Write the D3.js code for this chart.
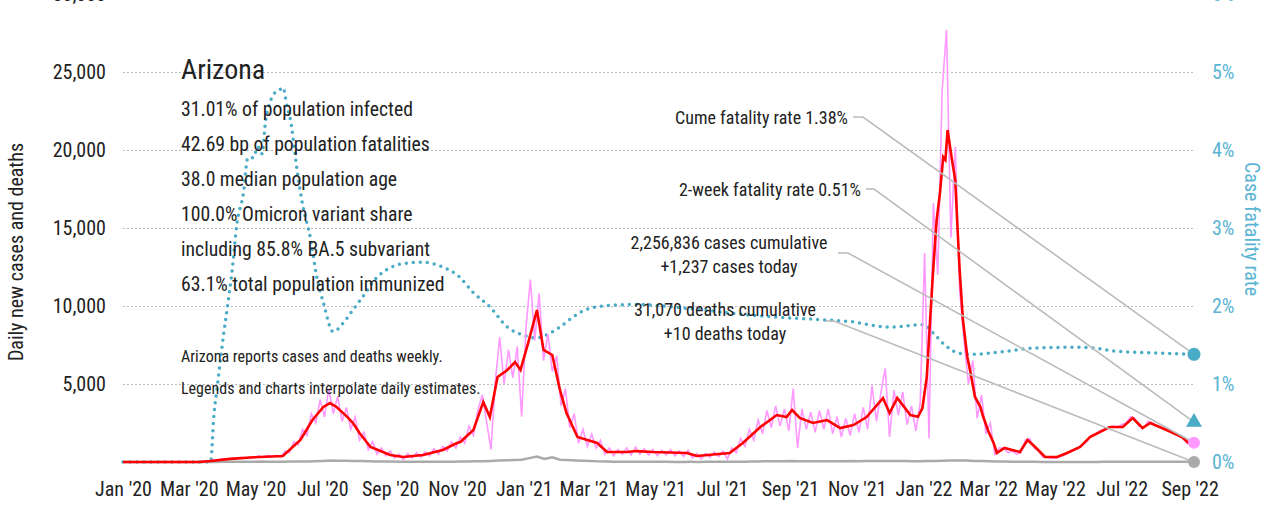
<!DOCTYPE html>
<html>
<head>
<meta charset="utf-8">
<script src="https://cdn.jsdelivr.net/npm/d3@7"></script>
<style>
  body { margin: 0; background: #fff; }
  svg text { font-family: "Roboto Condensed", "Roboto", sans-serif; font-stretch: condensed; fill: #222; }
</style>
</head>
<body>
<svg id="chart" width="1283" height="508"></svg>
<script>
// 7-day average of new cases (red line), read at turning points
const avgDates = ["2020-01-01","2020-03-10","2020-03-21","2020-04-08","2020-04-30","2020-05-26","2020-06-11","2020-06-22","2020-07-02","2020-07-08","2020-07-14","2020-07-24","2020-07-29","2020-08-04","2020-08-14","2020-09-01","2020-09-13","2020-10-01","2020-10-19","2020-11-01","2020-11-04","2020-11-16","2020-11-25","2020-12-01","2020-12-08","2020-12-17","2020-12-24","2020-12-29","2021-01-05","2021-01-13","2021-01-19","2021-01-27","2021-02-03","2021-02-09","2021-02-19","2021-02-28","2021-03-09","2021-03-18","2021-04-05","2021-04-14","2021-04-29","2021-05-30","2021-06-08","2021-07-08","2021-07-20","2021-08-05","2021-08-20","2021-08-29","2021-09-03","2021-09-10","2021-09-22","2021-10-05","2021-10-17","2021-10-29","2021-11-10","2021-11-25","2021-12-01","2021-12-08","2021-12-20","2021-12-27","2021-12-31","2022-01-04","2022-01-07","2022-01-10","2022-01-13","2022-01-16","2022-01-19","2022-01-21","2022-01-23","2022-01-27","2022-01-30","2022-02-01","2022-02-03","2022-02-06","2022-02-10","2022-02-13","2022-02-17","2022-02-22","2022-02-24","2022-03-01","2022-03-06","2022-03-09","2022-03-16","2022-03-30","2022-04-06","2022-04-13","2022-04-22","2022-05-03","2022-05-12","2022-05-24","2022-06-02","2022-06-20","2022-07-02","2022-07-11","2022-07-20","2022-07-27","2022-08-11","2022-08-25","2022-08-31","2022-09-05"];
const avgCases = [0,0,60,200,300,380,1410,2690,3525,3780,3525,2880,2500,1860,960,450,320,450,770,1220,1280,2050,3850,2880,5450,5900,6410,5900,7630,9740,7180,6860,4620,3140,1600,1410,1220,640,640,700,640,580,385,580,1220,2240,3010,2880,3330,2820,2500,2690,2180,2370,2880,4100,3140,4100,3010,2900,3460,5450,9100,12500,15500,17240,19550,19360,21280,19360,18080,15060,12300,9100,6730,5700,4170,3525,3010,2000,1220,580,900,640,1410,960,320,320,580,960,1600,2240,2240,2820,2180,2500,2050,1600,1220,1237];

// raw daily cases (pink line), one reading every 4 days from rawStart
const rawStart = "2020-03-01";
const rawStepDays = 4;
const rawCases = [0,0,10,40,60,90,130,170,220,180,
  250,220,300,240,330,280,400,300,430,350,
  420,300,700,600,1300,1100,2100,1700,3100,2500,
  4000,2900,4700,3100,4200,2600,3500,2100,2900,1400,
  1900,800,1300,500,900,400,700,250,500,150,
  550,250,600,300,650,400,850,500,1000,700,
  1300,900,1600,1200,2300,1700,3300,4300,2600,800,
  5200,8000,5000,7200,5400,7400,2900,8600,11700,7800,
  10800,6500,8200,5800,6800,3600,4700,2200,3100,1200,
  2100,1000,1800,900,1400,500,900,400,800,500,
  900,450,950,500,850,450,800,400,750,450,
  800,400,700,350,750,250,550,200,550,300,
  650,350,700,200,900,600,1500,1000,2100,1400,
  2700,1800,3300,2200,3600,2300,3400,2000,4700,900,
  3400,2100,3200,1900,3300,2100,3400,1800,2900,1600,
  2800,1700,3100,1900,3500,2100,4900,2600,4400,6000,
  1600,4600,3000,4500,2400,3600,2000,3800,13400,1500,
  16600,12000,23800,27700,14400,20200,11000,7800,5000,6500,
  2800,4300,1800,2500,500,900,900,600,700,500,
  600,1400,1500,900,700,300,300,250,250,350,
  450,600,750,900,1100,1300,1700,1800,2000,2100,
  2200,2300,2200,2400,2500,2900,2800,2300,2200,2600,
  2500,2300,2200,2100,2000,1800,1700,1500,1200,1237];

// daily deaths (gray line), weekly readings from deathStart
const deathStart = "2020-01-01";
const deathStepDays = 7;
const dailyDeaths = [0,0,0,0,0,0,0,0,0,0,0,
  2,5,10,15,
  15,20,18,25,20,22,
  20,25,30,40,55,
  70,90,80,85,70,60,
  45,40,30,25,20,
  15,15,12,15,15,18,20,
  25,35,45,50,
  70,90,110,130,140,
  250,350,200,300,150,130,
  100,80,60,40,30,
  20,15,15,12,12,10,10,10,8,8,10,8,10,12,10,12,
  15,20,30,40,45,50,55,60,50,55,45,
  50,55,45,50,60,55,65,70,60,65,70,60,55,
  50,60,70,80,90,100,90,
  70,60,50,40,30,20,
  15,12,10,8,8,8,8,6,6,8,8,10,10,10,12,10,10,12,10,10,10,10,10];

// case fatality rate, percent (teal dotted line)
const cfrDates = ["2020-01-01","2020-03-21","2020-03-24","2020-03-27","2020-03-30","2020-04-02","2020-04-05","2020-04-10","2020-04-14","2020-04-20","2020-04-24","2020-04-29","2020-05-03","2020-05-07","2020-05-10","2020-05-14","2020-05-19","2020-05-23","2020-05-26","2020-05-30","2020-06-02","2020-06-08","2020-06-13","2020-06-20","2020-06-26","2020-07-02","2020-07-11","2020-07-20","2020-07-29","2020-08-07","2020-08-20","2020-09-01","2020-09-16","2020-10-01","2020-10-19","2020-11-01","2020-11-16","2020-12-01","2020-12-17","2020-12-31","2021-01-13","2021-01-22","2021-02-03","2021-02-15","2021-03-02","2021-03-23","2021-04-14","2021-05-30","2021-07-29","2021-08-29","2021-10-05","2021-10-26","2021-12-01","2022-01-01","2022-01-10","2022-01-19","2022-02-01","2022-02-13","2022-03-12","2022-04-11","2022-05-12","2022-05-27","2022-06-27","2022-07-27","2022-09-05"];
const cfrPct = [0,0,0.6,0.96,1.31,1.65,1.95,2.5,3.05,3.45,3.9,3.9,4.04,3.95,4.35,4.6,4.74,4.77,4.8,4.55,4.38,3.74,3.3,2.88,2.37,2.04,1.67,1.78,1.95,2.12,2.37,2.49,2.55,2.56,2.5,2.4,2.17,1.99,1.73,1.63,1.59,1.63,1.73,1.86,1.97,2.01,2.02,1.97,1.88,1.85,1.82,1.8,1.73,1.76,1.65,1.52,1.4,1.38,1.41,1.46,1.47,1.47,1.42,1.4,1.38];

// latest values shown by the end markers
const cumeFatalityRate = 1.38;
const twoWeekFatalityRate = 0.51;
const casesToday = 1237;
const deathsToday = 10;

const caseTicks = [5000, 10000, 15000, 20000, 25000, 30000];
const rateTicks = [0, 1, 2, 3, 4, 5, 6];

const stateName = "Arizona";
const statLines = [
  "31.01% of population infected",
  "42.69 bp of population fatalities",
  "38.0 median population age",
  "100.0% Omicron variant share",
  "including 85.8% BA.5 subvariant",
  "63.1% total population immunized"
];
const noteLines = [
  "Arizona reports cases and deaths weekly.",
  "Legends and charts interpolate daily estimates."
];

const parse = d3.timeParse("%Y-%m-%d");
const svg = d3.select("#chart");

const x = d3.scaleTime()
  .domain([parse("2020-01-01"), parse("2022-09-05")])
  .range([123, 1194]);
const yCases = d3.scaleLinear().domain([0, 30000]).range([462, -6]);
const yRate = d3.scaleLinear().domain([0, 6]).range([462, -6]);

const teal = "#4aabc6";
const tealText = "#5ab4d3";

// gridlines
svg.append("g")
  .attr("transform", "translate(123,0)")
  .call(d3.axisLeft(yCases).tickValues(caseTicks).tickSize(-(1194 - 123)).tickFormat(""))
  .call(g => g.select(".domain").remove())
  .selectAll("line")
  .attr("stroke", "#bbb")
  .attr("stroke-dasharray", "2,2");

// left axis labels
svg.append("g")
  .attr("transform", "translate(123,0)")
  .call(d3.axisLeft(yCases).tickValues(caseTicks).tickSize(0).tickPadding(17).tickFormat(d3.format(",")))
  .call(g => g.select(".domain").remove())
  .selectAll("text")
  .style("font-size", "20px")
  .attr("fill", "#222");

// right axis labels
svg.append("g")
  .attr("transform", "translate(1194,0)")
  .call(d3.axisRight(yRate).tickValues(rateTicks).tickSize(0).tickPadding(18).tickFormat(d => d + "%"))
  .call(g => g.select(".domain").remove())
  .selectAll("text")
  .style("font-size", "20px")
  .style("fill", tealText);

// bottom axis
svg.append("g")
  .attr("transform", "translate(0,462)")
  .call(d3.axisBottom(x).ticks(d3.timeMonth.every(2)).tickSize(0).tickPadding(20).tickFormat(d3.timeFormat("%b '%y")))
  .call(g => g.select(".domain").remove())
  .selectAll("text")
  .style("font-size", "20px")
  .attr("fill", "#222");

// axis titles
svg.append("text")
  .attr("transform", "translate(23,252) rotate(-90)")
  .attr("text-anchor", "middle")
  .style("font-size", "20px")
  .text("Daily new cases and deaths");

svg.append("text")
  .attr("transform", "translate(1245,229) rotate(90)")
  .attr("text-anchor", "middle")
  .style("font-size", "20px")
  .style("fill", tealText)
  .text("Case fatality rate");

// series
let rawData = rawCases.map((v, i) => ({date: d3.timeDay.offset(parse(rawStart), i * rawStepDays), value: v}));
let deathData = dailyDeaths.map((v, i) => ({date: d3.timeDay.offset(parse(deathStart), i * deathStepDays), value: v}));
let avgData = avgDates.map((d, i) => ({date: parse(d), value: avgCases[i]}));
let cfrData = cfrDates.map((d, i) => ({date: parse(d), value: cfrPct[i]}));

let caseLine = d3.line().x(d => x(d.date)).y(d => yCases(d.value));
let rateLine = d3.line().x(d => x(d.date)).y(d => yRate(d.value)).curve(d3.curveMonotoneX);

svg.append("path")
  .datum(cfrData)
  .attr("d", rateLine)
  .attr("fill", "none")
  .attr("stroke", teal)
  .attr("stroke-width", 3.5)
  .attr("stroke-linecap", "round")
  .attr("stroke-dasharray", "0,7");

svg.append("path")
  .datum(rawData)
  .attr("d", caseLine)
  .attr("fill", "none")
  .attr("stroke", "#ff99ff")
  .attr("stroke-width", 1.6);

svg.append("path")
  .datum(deathData)
  .attr("d", caseLine)
  .attr("fill", "none")
  .attr("stroke", "#aaa")
  .attr("stroke-width", 2.5);

svg.append("path")
  .datum(avgData)
  .attr("d", caseLine)
  .attr("fill", "none")
  .attr("stroke", "#ff0000")
  .attr("stroke-width", 2.6);

// stats block
svg.append("text")
  .attr("x", 181).attr("y", 79)
  .style("font-size", "28px")
  .text(stateName);

svg.selectAll(".stat")
  .data(statLines)
  .join("text")
  .attr("class", "stat")
  .attr("x", 181)
  .attr("y", (d, i) => 116 + i * 35)
  .style("font-size", "19.7px")
  .text(d => d);

svg.selectAll(".note")
  .data(noteLines)
  .join("text")
  .attr("class", "note")
  .attr("x", 181)
  .attr("y", (d, i) => 362 + i * 32)
  .style("font-size", "16px")
  .text(d => d);

// callouts to end markers
const xEnd = x.range()[1];
const callouts = [
  {lines: ["Cume fatality rate " + cumeFatalityRate + "%"], tx: 848, ty: 124, anchor: "end", from: [853, 117], elbow: 863, toY: yRate(cumeFatalityRate)},
  {lines: ["2-week fatality rate " + twoWeekFatalityRate + "%"], tx: 861, ty: 196, anchor: "end", from: [866, 189], elbow: 874, toY: yRate(twoWeekFatalityRate)},
  {lines: ["2,256,836 cases cumulative", "+" + d3.format(",")(casesToday) + " cases today"], tx: 729, ty: 249, anchor: "middle", from: [838, 253], elbow: 848, toY: yCases(casesToday)},
  {lines: ["31,070 deaths cumulative", "+" + deathsToday + " deaths today"], tx: 725, ty: 316, anchor: "middle", from: [826, 321], elbow: 834, toY: yCases(0)}
];

callouts.forEach(c => {
  svg.append("path")
    .attr("d", d3.line()([c.from, [c.elbow, c.from[1]], [xEnd, c.toY]]))
    .attr("fill", "none")
    .attr("stroke", "#bbb")
    .attr("stroke-width", 1.6);
  c.lines.forEach((t, i) => {
    svg.append("text")
      .attr("x", c.tx)
      .attr("y", c.ty + i * 24)
      .attr("text-anchor", c.anchor)
      .style("font-size", "18px")
      .text(t);
  });
});

// end markers
svg.append("circle").attr("cx", xEnd).attr("cy", yCases(0)).attr("r", 6).attr("fill", "#aaa");
svg.append("circle").attr("cx", xEnd).attr("cy", yCases(casesToday)).attr("r", 6).attr("fill", "#ff99ff");
svg.append("path")
  .attr("d", d3.symbol(d3.symbolTriangle, 110)())
  .attr("transform", "translate(" + xEnd + "," + yRate(twoWeekFatalityRate) + ")")
  .attr("fill", teal);
svg.append("circle").attr("cx", xEnd).attr("cy", yRate(cumeFatalityRate)).attr("r", 6.5).attr("fill", teal);
</script>
</body>
</html>
